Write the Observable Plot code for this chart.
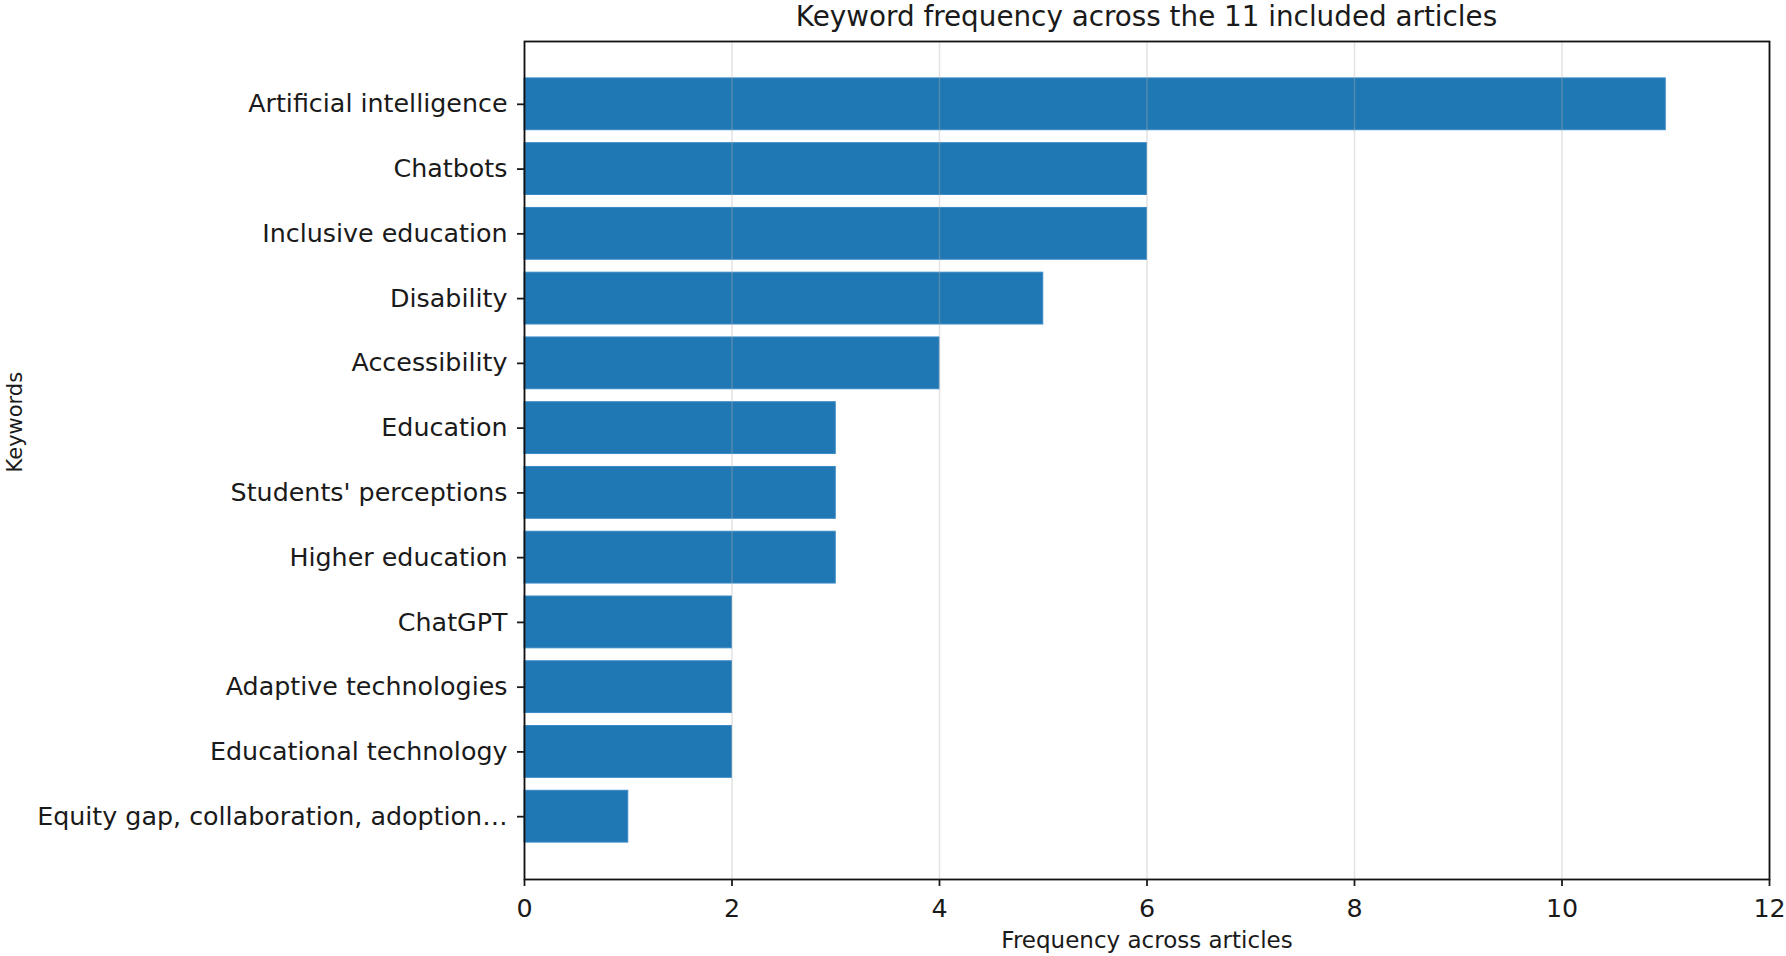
<!DOCTYPE html>
<html>
<head>
<meta charset="utf-8">
<script src="https://cdn.jsdelivr.net/npm/d3@7"></script>
<script src="https://cdn.jsdelivr.net/npm/@observablehq/plot@0.6"></script>
<style>
  html, body { margin: 0; padding: 0; background: white; overflow: hidden; }
  #title { margin-left: 524px; width: 1245px; height: 40px; line-height: 34px; text-align: center;
           font-family: "DejaVu Sans", sans-serif; font-size: 27.8px; color: #1a1a1a; white-space: nowrap; }
  #chart svg { display: block; }
</style>
</head>
<body>
<div id="title"></div>
<div id="chart"></div>
<script>
const titleText = "Keyword frequency across the 11 included articles";
const keywords = [
  "Artificial intelligence",
  "Chatbots",
  "Inclusive education",
  "Disability",
  "Accessibility",
  "Education",
  "Students' perceptions",
  "Higher education",
  "ChatGPT",
  "Adaptive technologies",
  "Educational technology",
  "Equity gap, collaboration, adoption…"
];
const counts = [11, 6, 6, 5, 4, 3, 3, 3, 2, 2, 2, 1];
const xTicks = [0, 2, 4, 6, 8, 10, 12];
const xLabel = "Frequency across articles";
const yLabel = "Keywords";

const data = keywords.map((k, i) => ({keyword: k, count: counts[i]}));

document.getElementById("title").textContent = titleText;

const chart = Plot.plot({
  width: 1786,
  height: 916,
  marginTop: 1,
  marginBottom: 77,
  marginLeft: 524,
  marginRight: 17,
  style: {fontFamily: "DejaVu Sans", fontSize: "25.35px", color: "#1a1a1a", background: "white"},
  x: {domain: [0, 12]},
  y: {type: "band", domain: keywords, paddingInner: 0.2, paddingOuter: 0.57, align: 0.5, round: false},
  marks: [
    Plot.barX(data, {x: "count", y: "keyword", fill: "#1f77b4", stroke: "#3a8ac4", strokeWidth: 1}),
    Plot.ruleX(xTicks, {stroke: "#b0b0b0", strokeOpacity: 0.35, strokeWidth: 1.5}),
    Plot.frame({stroke: "#111", strokeWidth: 1.8}),
    Plot.axisX({ticks: xTicks, tickSize: 7, tickPadding: 12, label: null, tickFormat: d => String(d), strokeWidth: 1.8}),
    Plot.axisY({tickSize: 7, tickPadding: 10, label: null, strokeWidth: 1.8}),
    Plot.text([xLabel], {frameAnchor: "bottom", dy: 61, lineAnchor: "middle", fontSize: 23, text: d => d}),
    Plot.text([yLabel], {frameAnchor: "left", dx: -509.5, dy: 12, rotate: -90, lineAnchor: "middle", fontSize: 21, text: d => d})
  ]
});
document.getElementById("chart").appendChild(chart);
</script>
</body>
</html>
